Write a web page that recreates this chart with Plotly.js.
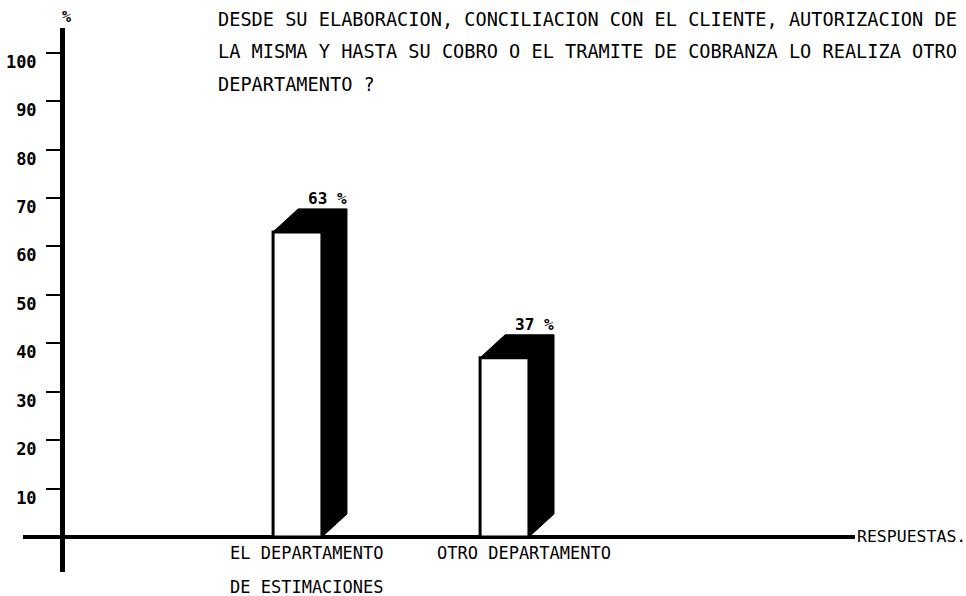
<!DOCTYPE html>
<html>
<head>
<meta charset="utf-8">
<script src="https://cdn.plot.ly/plotly-3.0.1.min.js"></script>
<style>html,body{margin:0;padding:0;background:#fff;}#chart{width:966px;height:596px;}</style>
</head>
<body>
<div id="chart"></div>
<script>
// ---- data ----
const categories = ["EL DEPARTAMENTO<br>DE ESTIMACIONES", "OTRO DEPARTAMENTO"];
const percentages = [63, 37];
const valueLabels = ["63 %", "37 %"];
const tickValues = [10, 20, 30, 40, 50, 60, 70, 80, 90, 100];
const tickLabels = ["10", "20", "30", "40", "50", "60", "70", "80", "90", "100"];
const titleLines = [
  "DESDE SU ELABORACION, CONCILIACION CON EL CLIENTE, AUTORIZACION DE",
  "LA MISMA Y HASTA SU COBRO O EL TRAMITE DE COBRANZA LO REALIZA OTRO",
  "DEPARTAMENTO ?"
];
const xAxisLabel = "RESPUESTAS.";
const yAxisLabel = "%";

// ---- style constants ----
const MONO = "DejaVu Sans Mono, monospace";
const barWidth = 0.236;     // in category units
const depthX = 0.121;       // 3D offset in category units
const depthY = 4.75;        // 3D offset in value units

const traces = [];
// black top + side of each bar (3D effect), derived from data
categories.forEach((c, i) => {
  const v = percentages[i];
  const h = barWidth / 2;
  const xs = [i - h, i - h + depthX, i + h + depthX, i + h + depthX, i + h, i + h, i - h];
  const ys = [v, v + depthY, v + depthY, depthY, 0, v, v];
  traces.push({
    type: "scatter", mode: "lines", x: xs, y: ys, fill: "toself",
    fillcolor: "#000", line: {color: "#000", width: 1}, hoverinfo: "skip",
    showlegend: false, xaxis: "x", yaxis: "y"
  });
});
// white front faces
traces.push({
  type: "bar",
  x: categories.map((c, i) => i),
  y: percentages,
  width: barWidth,
  marker: {color: "#fff", line: {color: "#000", width: 3}},
  showlegend: false, hoverinfo: "skip"
});

const annotations = [];
titleLines.forEach((t, k) => {
  annotations.push({
    xref: "paper", yref: "paper", x: 0.232, y: 1, xanchor: "left", yanchor: "middle",
    yshift: 9 - 32.5 * k, text: t, showarrow: false,
    font: {family: MONO, size: 18.6, color: "#000"}
  });
});
categories.forEach((c, i) => {
  c.split("<br>").forEach((line, k) => {
    annotations.push({
      x: i, y: 0, xref: "x", yref: "y", xanchor: "left", yanchor: "middle",
      xshift: -70, yshift: -16 - 34 * k, text: line, showarrow: false,
      font: {family: MONO, size: 17, color: "#000"}
    });
  });
  annotations.push({
    x: i, y: percentages[i] + depthY, xref: "x", yref: "y", xanchor: "center", yanchor: "bottom",
    xshift: 30, yshift: -1, text: valueLabels[i], showarrow: false,
    font: {family: MONO, size: 16, color: "#000", weight: "bold"}
  });
});
annotations.push({
  xref: "paper", yref: "y", x: 1, y: 0, xanchor: "left", yanchor: "middle", xshift: 0,
  text: xAxisLabel, showarrow: false, font: {family: MONO, size: 16.5, color: "#000"}
});
annotations.push({
  xref: "paper", yref: "paper", x: 0.052, y: 1, xanchor: "center", yanchor: "middle", yshift: 11,
  text: yAxisLabel, showarrow: false, font: {family: MONO, size: 15, color: "#000", weight: "bold"}
});

const layout = {
  width: 966, height: 596,
  margin: {l: 23, r: 111, t: 28, b: 24},
  paper_bgcolor: "#fff", plot_bgcolor: "#fff",
  showlegend: false,
  xaxis: {
    range: [-1.326, 2.693], showgrid: false, zeroline: false, showline: false,
    showticklabels: false, ticks: "", fixedrange: true
  },
  yaxis: {
    range: [-7.23, 105.1], anchor: "free", position: 0.0469,
    showgrid: false, zeroline: true, zerolinecolor: "#000", zerolinewidth: 4,
    showline: true, linecolor: "#000", linewidth: 5,
    ticks: "outside", ticklen: 14, tickwidth: 2, tickcolor: "#000",
    tickvals: tickValues, ticktext: tickLabels, ticklabelshift: 9, ticklabelstandoff: 6,
    tickfont: {family: MONO, size: 17, color: "#000", weight: "bold"},
    fixedrange: true
  },
  annotations: annotations,
  bargap: 0
};

Plotly.newPlot("chart", traces, layout, {displayModeBar: false, staticPlot: true});
</script>
</body>
</html>
